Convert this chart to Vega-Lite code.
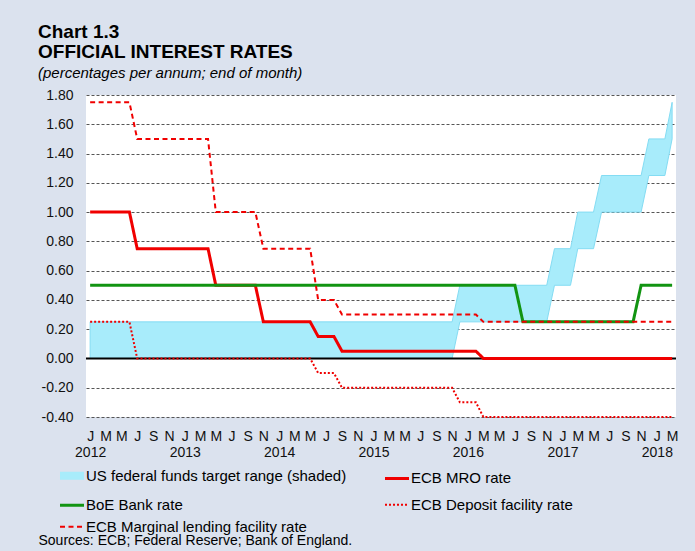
{
  "$schema": "https://vega.github.io/schema/vega-lite/v6.json",
  "width": 590,
  "height": 322,
  "autosize": {"type": "none"},
  "padding": {"left": 86, "top": 95, "right": 19, "bottom": 134},
  "background": "#dbe2ee",
  "config": {"font": "Liberation Sans", "view": {"stroke": null, "fill": "white"}},
  "title": {
    "text": ["Chart 1.3", "OFFICIAL INTEREST RATES"],
    "subtitle": "(percentages per annum; end of month)",
    "anchor": "start", "frame": "group", "dx": -48, "offset": 7,
    "fontSize": 19, "fontWeight": "bold", "lineHeight": 20, "color": "#000",
    "subtitleFontSize": 15, "subtitleFontStyle": "italic", "subtitleColor": "#000", "subtitlePadding": 4
  },
  "datasets": {
    "band": [
      {"s": "US federal funds target range (shaded)", "d": "2012-01-01", "lo": 0, "hi": 0.25},
      {"s": "US federal funds target range (shaded)", "d": "2015-11-01", "lo": 0, "hi": 0.25},
      {"s": "US federal funds target range (shaded)", "d": "2015-12-01", "lo": 0.25, "hi": 0.5},
      {"s": "US federal funds target range (shaded)", "d": "2016-11-01", "lo": 0.25, "hi": 0.5},
      {"s": "US federal funds target range (shaded)", "d": "2016-12-01", "lo": 0.5, "hi": 0.75},
      {"s": "US federal funds target range (shaded)", "d": "2017-02-01", "lo": 0.5, "hi": 0.75},
      {"s": "US federal funds target range (shaded)", "d": "2017-03-01", "lo": 0.75, "hi": 1.0},
      {"s": "US federal funds target range (shaded)", "d": "2017-05-01", "lo": 0.75, "hi": 1.0},
      {"s": "US federal funds target range (shaded)", "d": "2017-06-01", "lo": 1.0, "hi": 1.25},
      {"s": "US federal funds target range (shaded)", "d": "2017-11-01", "lo": 1.0, "hi": 1.25},
      {"s": "US federal funds target range (shaded)", "d": "2017-12-01", "lo": 1.25, "hi": 1.5},
      {"s": "US federal funds target range (shaded)", "d": "2018-02-01", "lo": 1.25, "hi": 1.5},
      {"s": "US federal funds target range (shaded)", "d": "2018-03-01", "lo": 1.5, "hi": 1.75}
    ],
    "zero": [{"z": 0}],
    "lines": [
      {"s": "ECB MRO rate", "d": "2012-01-01", "v": 1.0},
      {"s": "ECB MRO rate", "d": "2012-06-01", "v": 1.0},
      {"s": "ECB MRO rate", "d": "2012-07-01", "v": 0.75},
      {"s": "ECB MRO rate", "d": "2013-04-01", "v": 0.75},
      {"s": "ECB MRO rate", "d": "2013-05-01", "v": 0.5},
      {"s": "ECB MRO rate", "d": "2013-10-01", "v": 0.5},
      {"s": "ECB MRO rate", "d": "2013-11-01", "v": 0.25},
      {"s": "ECB MRO rate", "d": "2014-05-01", "v": 0.25},
      {"s": "ECB MRO rate", "d": "2014-06-01", "v": 0.15},
      {"s": "ECB MRO rate", "d": "2014-08-01", "v": 0.15},
      {"s": "ECB MRO rate", "d": "2014-09-01", "v": 0.05},
      {"s": "ECB MRO rate", "d": "2016-02-01", "v": 0.05},
      {"s": "ECB MRO rate", "d": "2016-03-01", "v": 0.0},
      {"s": "ECB MRO rate", "d": "2018-03-01", "v": 0.0},
      {"s": "BoE Bank rate", "d": "2012-01-01", "v": 0.5},
      {"s": "BoE Bank rate", "d": "2016-07-01", "v": 0.5},
      {"s": "BoE Bank rate", "d": "2016-08-01", "v": 0.25},
      {"s": "BoE Bank rate", "d": "2017-10-01", "v": 0.25},
      {"s": "BoE Bank rate", "d": "2017-11-01", "v": 0.5},
      {"s": "BoE Bank rate", "d": "2018-03-01", "v": 0.5},
      {"s": "ECB Marginal lending facility rate", "d": "2012-01-01", "v": 1.75},
      {"s": "ECB Marginal lending facility rate", "d": "2012-06-01", "v": 1.75},
      {"s": "ECB Marginal lending facility rate", "d": "2012-07-01", "v": 1.5},
      {"s": "ECB Marginal lending facility rate", "d": "2013-04-01", "v": 1.5},
      {"s": "ECB Marginal lending facility rate", "d": "2013-05-01", "v": 1.0},
      {"s": "ECB Marginal lending facility rate", "d": "2013-10-01", "v": 1.0},
      {"s": "ECB Marginal lending facility rate", "d": "2013-11-01", "v": 0.75},
      {"s": "ECB Marginal lending facility rate", "d": "2014-05-01", "v": 0.75},
      {"s": "ECB Marginal lending facility rate", "d": "2014-06-01", "v": 0.4},
      {"s": "ECB Marginal lending facility rate", "d": "2014-08-01", "v": 0.4},
      {"s": "ECB Marginal lending facility rate", "d": "2014-09-01", "v": 0.3},
      {"s": "ECB Marginal lending facility rate", "d": "2016-02-01", "v": 0.3},
      {"s": "ECB Marginal lending facility rate", "d": "2016-03-01", "v": 0.25},
      {"s": "ECB Marginal lending facility rate", "d": "2018-03-01", "v": 0.25},
      {"s": "ECB Deposit facility rate", "d": "2012-01-01", "v": 0.25},
      {"s": "ECB Deposit facility rate", "d": "2012-06-01", "v": 0.25},
      {"s": "ECB Deposit facility rate", "d": "2012-07-01", "v": 0.0},
      {"s": "ECB Deposit facility rate", "d": "2014-05-01", "v": 0.0},
      {"s": "ECB Deposit facility rate", "d": "2014-06-01", "v": -0.1},
      {"s": "ECB Deposit facility rate", "d": "2014-08-01", "v": -0.1},
      {"s": "ECB Deposit facility rate", "d": "2014-09-01", "v": -0.2},
      {"s": "ECB Deposit facility rate", "d": "2015-11-01", "v": -0.2},
      {"s": "ECB Deposit facility rate", "d": "2015-12-01", "v": -0.3},
      {"s": "ECB Deposit facility rate", "d": "2016-02-01", "v": -0.3},
      {"s": "ECB Deposit facility rate", "d": "2016-03-01", "v": -0.4},
      {"s": "ECB Deposit facility rate", "d": "2018-03-01", "v": -0.4}
    ]
  },
  "layer": [
    {
      "data": {"name": "band"},
      "mark": {"type": "area", "stroke": "#84dcf3", "strokeWidth": 1, "opacity": 1, "fillOpacity": 1},
      "encoding": {
        "x": {"field": "d", "type": "temporal", "title": "Sources: ECB; Federal Reserve; Bank of England.",
          "scale": {"type": "utc", "domain": [{"year": 2011, "month": 12, "date": 16, "utc": true}, {"year": 2018, "month": 3, "date": 16, "utc": true}]},
          "axis": {"tickCount": {"interval": "month", "step": 1},
            "labelExpr": "utcmonth(datum.value) == 0 ? ['J', '' + utcyear(datum.value)] : ['', '', 'M', '', 'M', '', 'J', '', 'S', '', 'N', ''][utcmonth(datum.value)]",
            "labelOverlap": false, "labelFlush": false, "labelBaseline": "top", "labelLineHeight": 16, "labelPadding": 12,
            "labelFontSize": 14, "labelColor": "#111", "domain": false, "ticks": false, "grid": false,
            "titleX": -48, "titleY": 127, "titleAlign": "left", "titleAnchor": "start", "titleBaseline": "alphabetic",
            "titleFontSize": 14, "titleFontWeight": "normal", "titleColor": "#000"}},
        "y": {"field": "lo", "type": "quantitative", "title": null,
          "scale": {"domain": [-0.4, 1.8], "nice": false, "zero": false},
          "axis": {"values": [-0.4, -0.2, 0, 0.2, 0.4, 0.6, 0.8, 1.0, 1.2, 1.4, 1.6, 1.8],
            "labelExpr": "(datum.value < -0.001 ? '-' : '') + format(abs(datum.value), '.2f')", "labelOverlap": false,
            "domain": false, "ticks": false, "grid": true, "gridColor": "#555", "gridDash": [3, 2], "gridWidth": 1,
            "labelFontSize": 14, "labelColor": "#111", "labelPadding": 13}},
        "y2": {"field": "hi"},
        "color": {"field": "s", "type": "nominal",
          "scale": {"domain": ["US federal funds target range (shaded)", "BoE Bank rate", "ECB Marginal lending facility rate", "ECB MRO rate", "ECB Deposit facility rate"],
            "range": ["#a8ecfb", "#129412", "#f00000", "#f00000", "#f00000"]},
          "legend": {"title": null, "orient": "none", "legendX": -30, "legendY": 364.7, "columns": 2, "columnPadding": 32,
            "rowPadding": -17, "padding": 0, "symbolSize": 576, "symbolType": "stroke", "symbolStrokeWidth": 3,
            "labelFontSize": 15, "labelOffset": -2, "labelColor": "#000", "labelLimit": 400}}
      }
    },
    {
      "data": {"name": "zero"},
      "mark": {"type": "rule", "color": "#000", "strokeWidth": 2},
      "encoding": {"y": {"field": "z", "type": "quantitative", "title": null,
          "scale": {"domain": [-0.4, 1.8], "nice": false, "zero": false},
          "axis": {"values": [-0.4, -0.2, 0, 0.2, 0.4, 0.6, 0.8, 1.0, 1.2, 1.4, 1.6, 1.8],
            "labelExpr": "(datum.value < -0.001 ? '-' : '') + format(abs(datum.value), '.2f')", "labelOverlap": false,
            "domain": false, "ticks": false, "grid": true, "gridColor": "#555", "gridDash": [3, 2], "gridWidth": 1,
            "labelFontSize": 14, "labelColor": "#111", "labelPadding": 13}}}
    },
    {
      "data": {"name": "lines"},
      "transform": [{"filter": "datum.s == 'ECB MRO rate'"}],
      "mark": {"type": "line"},
      "encoding": {
        "x": {"field": "d", "type": "temporal", "title": "Sources: ECB; Federal Reserve; Bank of England.",
          "scale": {"type": "utc", "domain": [{"year": 2011, "month": 12, "date": 16, "utc": true}, {"year": 2018, "month": 3, "date": 16, "utc": true}]}},
        "y": {"field": "v", "type": "quantitative", "title": null,
          "scale": {"domain": [-0.4, 1.8], "nice": false, "zero": false},
          "axis": {"values": [-0.4, -0.2, 0, 0.2, 0.4, 0.6, 0.8, 1.0, 1.2, 1.4, 1.6, 1.8],
            "labelExpr": "(datum.value < -0.001 ? '-' : '') + format(abs(datum.value), '.2f')", "labelOverlap": false,
            "domain": false, "ticks": false, "grid": true, "gridColor": "#555", "gridDash": [3, 2], "gridWidth": 1,
            "labelFontSize": 14, "labelColor": "#111", "labelPadding": 13}},
        "color": {"field": "s", "type": "nominal"},
        "strokeDash": {"field": "s", "type": "nominal",
          "scale": {"domain": ["US federal funds target range (shaded)", "BoE Bank rate", "ECB Marginal lending facility rate", "ECB MRO rate", "ECB Deposit facility rate"],
            "range": [[1, 0], [1, 0], [5, 3.5], [1, 0], [2, 2]]}},
        "strokeWidth": {"field": "s", "type": "nominal",
          "scale": {"type": "ordinal", "domain": ["US federal funds target range (shaded)", "BoE Bank rate", "ECB Marginal lending facility rate", "ECB MRO rate", "ECB Deposit facility rate"],
            "range": [8, 3, 2, 3, 2]}}
      }
    },
    {
      "data": {"name": "lines"},
      "transform": [{"filter": "datum.s == 'BoE Bank rate'"}],
      "mark": {"type": "line"},
      "encoding": {
        "x": {"field": "d", "type": "temporal", "title": "Sources: ECB; Federal Reserve; Bank of England.",
          "scale": {"type": "utc", "domain": [{"year": 2011, "month": 12, "date": 16, "utc": true}, {"year": 2018, "month": 3, "date": 16, "utc": true}]}},
        "y": {"field": "v", "type": "quantitative", "title": null,
          "scale": {"domain": [-0.4, 1.8], "nice": false, "zero": false},
          "axis": {"values": [-0.4, -0.2, 0, 0.2, 0.4, 0.6, 0.8, 1.0, 1.2, 1.4, 1.6, 1.8],
            "labelExpr": "(datum.value < -0.001 ? '-' : '') + format(abs(datum.value), '.2f')", "labelOverlap": false,
            "domain": false, "ticks": false, "grid": true, "gridColor": "#555", "gridDash": [3, 2], "gridWidth": 1,
            "labelFontSize": 14, "labelColor": "#111", "labelPadding": 13}},
        "color": {"field": "s", "type": "nominal"},
        "strokeDash": {"field": "s", "type": "nominal",
          "scale": {"domain": ["US federal funds target range (shaded)", "BoE Bank rate", "ECB Marginal lending facility rate", "ECB MRO rate", "ECB Deposit facility rate"],
            "range": [[1, 0], [1, 0], [5, 3.5], [1, 0], [2, 2]]}},
        "strokeWidth": {"field": "s", "type": "nominal",
          "scale": {"type": "ordinal", "domain": ["US federal funds target range (shaded)", "BoE Bank rate", "ECB Marginal lending facility rate", "ECB MRO rate", "ECB Deposit facility rate"],
            "range": [8, 3, 2, 3, 2]}}
      }
    },
    {
      "data": {"name": "lines"},
      "transform": [{"filter": "datum.s == 'ECB Marginal lending facility rate'"}],
      "mark": {"type": "line"},
      "encoding": {
        "x": {"field": "d", "type": "temporal", "title": "Sources: ECB; Federal Reserve; Bank of England.",
          "scale": {"type": "utc", "domain": [{"year": 2011, "month": 12, "date": 16, "utc": true}, {"year": 2018, "month": 3, "date": 16, "utc": true}]}},
        "y": {"field": "v", "type": "quantitative", "title": null,
          "scale": {"domain": [-0.4, 1.8], "nice": false, "zero": false},
          "axis": {"values": [-0.4, -0.2, 0, 0.2, 0.4, 0.6, 0.8, 1.0, 1.2, 1.4, 1.6, 1.8],
            "labelExpr": "(datum.value < -0.001 ? '-' : '') + format(abs(datum.value), '.2f')", "labelOverlap": false,
            "domain": false, "ticks": false, "grid": true, "gridColor": "#555", "gridDash": [3, 2], "gridWidth": 1,
            "labelFontSize": 14, "labelColor": "#111", "labelPadding": 13}},
        "color": {"field": "s", "type": "nominal"},
        "strokeDash": {"field": "s", "type": "nominal",
          "scale": {"domain": ["US federal funds target range (shaded)", "BoE Bank rate", "ECB Marginal lending facility rate", "ECB MRO rate", "ECB Deposit facility rate"],
            "range": [[1, 0], [1, 0], [5, 3.5], [1, 0], [2, 2]]}},
        "strokeWidth": {"field": "s", "type": "nominal",
          "scale": {"type": "ordinal", "domain": ["US federal funds target range (shaded)", "BoE Bank rate", "ECB Marginal lending facility rate", "ECB MRO rate", "ECB Deposit facility rate"],
            "range": [8, 3, 2, 3, 2]}}
      }
    },
    {
      "data": {"name": "lines"},
      "transform": [{"filter": "datum.s == 'ECB Deposit facility rate'"}],
      "mark": {"type": "line"},
      "encoding": {
        "x": {"field": "d", "type": "temporal", "title": "Sources: ECB; Federal Reserve; Bank of England.",
          "scale": {"type": "utc", "domain": [{"year": 2011, "month": 12, "date": 16, "utc": true}, {"year": 2018, "month": 3, "date": 16, "utc": true}]}},
        "y": {"field": "v", "type": "quantitative", "title": null,
          "scale": {"domain": [-0.4, 1.8], "nice": false, "zero": false},
          "axis": {"values": [-0.4, -0.2, 0, 0.2, 0.4, 0.6, 0.8, 1.0, 1.2, 1.4, 1.6, 1.8],
            "labelExpr": "(datum.value < -0.001 ? '-' : '') + format(abs(datum.value), '.2f')", "labelOverlap": false,
            "domain": false, "ticks": false, "grid": true, "gridColor": "#555", "gridDash": [3, 2], "gridWidth": 1,
            "labelFontSize": 14, "labelColor": "#111", "labelPadding": 13}},
        "color": {"field": "s", "type": "nominal"},
        "strokeDash": {"field": "s", "type": "nominal",
          "scale": {"domain": ["US federal funds target range (shaded)", "BoE Bank rate", "ECB Marginal lending facility rate", "ECB MRO rate", "ECB Deposit facility rate"],
            "range": [[1, 0], [1, 0], [5, 3.5], [1, 0], [2, 2]]}},
        "strokeWidth": {"field": "s", "type": "nominal",
          "scale": {"type": "ordinal", "domain": ["US federal funds target range (shaded)", "BoE Bank rate", "ECB Marginal lending facility rate", "ECB MRO rate", "ECB Deposit facility rate"],
            "range": [8, 3, 2, 3, 2]}}
      }
    }
  ]
}
